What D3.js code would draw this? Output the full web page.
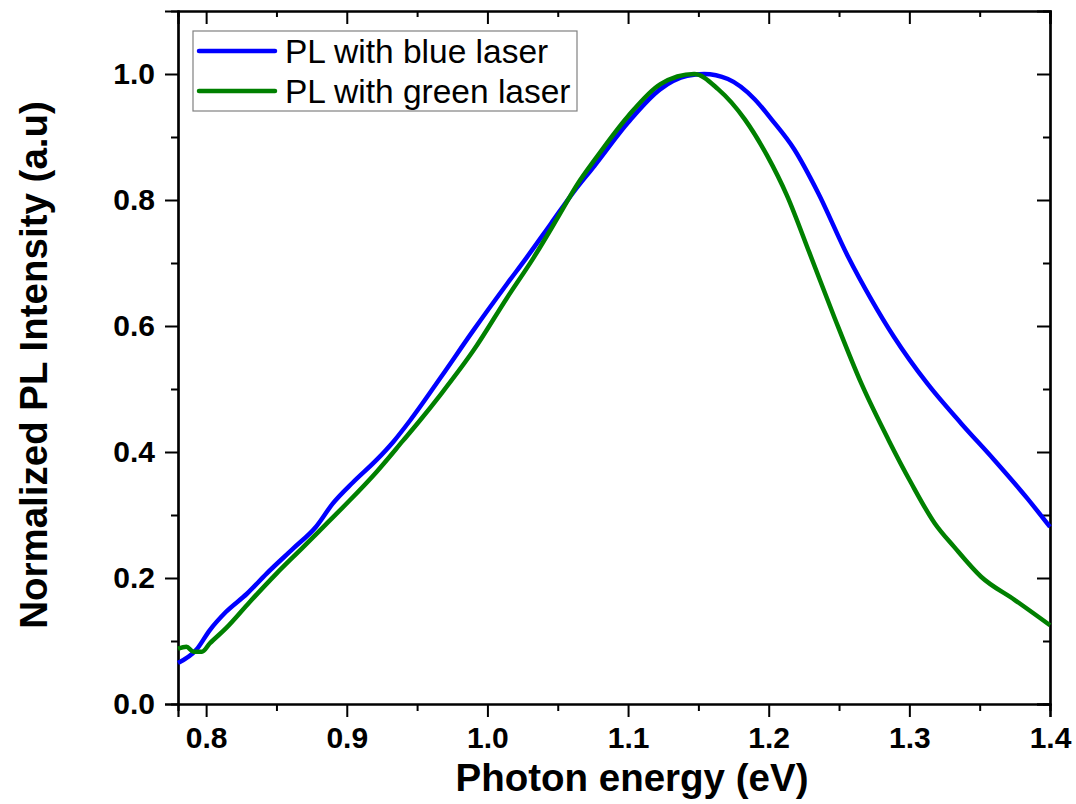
<!DOCTYPE html>
<html lang="en">

<head>
  <meta charset="UTF-8">
  <title>Normalized PL Intensity</title>
  <script src="https://d3js.org/d3.v7.min.js"></script>
  <style>
    body {
      margin: 0;
      background: #fff;
      font-family: Arial, "Liberation Sans", sans-serif;
    }

    .tick-label {
      font-weight: bold;
      font-size: 30px;
      fill: #000;
    }

    .axis-title {
      font-weight: bold;
      font-size: 38.5px;
      fill: #000;
    }
  </style>
</head>

<body>
  <div id="chart"></div>

  <script>
    // data
    const blueEnergy = [0.780, 0.793, 0.8025, 0.814, 0.829, 0.843, 0.862, 0.878, 0.890, 0.9045, 0.921, 0.933, 0.945,
      0.967, 0.990, 1.014, 1.028, 1.045, 1.062, 1.076, 1.100, 1.123, 1.142, 1.154, 1.171, 1.190, 1.202, 1.218,
      1.235, 1.256, 1.273, 1.289, 1.313, 1.337, 1.3605, 1.384, 1.400];
    const blueIntensity = [0.065, 0.086, 0.117, 0.146, 0.175, 0.207, 0.247, 0.281, 0.318, 0.352, 0.387, 0.416, 0.450,
      0.519, 0.593, 0.667, 0.709, 0.762, 0.815, 0.854, 0.923, 0.976, 0.997, 1.000, 0.992, 0.960, 0.928, 0.881,
      0.812, 0.712, 0.642, 0.583, 0.508, 0.445, 0.387, 0.326, 0.281];

    const greenEnergy = [0.780, 0.786, 0.791, 0.797, 0.8025, 0.814, 0.831, 0.850, 0.869, 0.8855, 0.902, 0.921, 0.940,
      0.952, 0.967, 0.990, 1.014, 1.033, 1.050, 1.064, 1.077, 1.100, 1.123, 1.147, 1.164, 1.183, 1.199, 1.213,
      1.229, 1.247, 1.266, 1.285, 1.301, 1.318, 1.332, 1.351, 1.375, 1.400];
    const greenIntensity = [0.088, 0.091, 0.083, 0.083, 0.096, 0.120, 0.162, 0.207, 0.249, 0.286, 0.323, 0.368, 0.418,
      0.450, 0.492, 0.561, 0.645, 0.709, 0.772, 0.825, 0.866, 0.933, 0.984, 1.000, 0.976, 0.928, 0.870, 0.807,
      0.716, 0.612, 0.508, 0.420, 0.352, 0.287, 0.249, 0.202, 0.165, 0.125];

    const seriesNames = ["PL with blue laser", "PL with green laser"];
    const seriesColors = ["#0000ff", "#008000"];

    const xMajorTicks = [0.8, 0.9, 1.0, 1.1, 1.2, 1.3, 1.4];
    const xMinorTicks = [0.85, 0.95, 1.05, 1.15, 1.25, 1.35];
    const yMajorTicks = [0.0, 0.2, 0.4, 0.6, 0.8, 1.0];
    const yMinorTicks = [0.1, 0.3, 0.5, 0.7, 0.9];

    const xTitle = "Photon energy (eV)";
    const yTitle = "Normalized PL Intensity (a.u)";

    const margin = { top: 11, right: 26, bottom: 100, left: 178 };
    const width = 1076 - margin.left - margin.right;
    const height = 804 - margin.top - margin.bottom;

    const svg = d3.select("#chart").append("svg")
      .attr("width", 1076)
      .attr("height", 804)
      .append("g")
      .attr("transform", `translate(${margin.left},${margin.top})`);

    const x = d3.scaleLinear().domain([0.78, 1.4]).range([0, width]);
    const y = d3.scaleLinear().domain([0, 1.1]).range([height, 0]);

    const fmt = d3.format(".1f");

    // bottom axis: ticks outward
    const bottomAxis = svg.append("g").attr("transform", `translate(0,${height})`);
    bottomAxis.call(d3.axisBottom(x).tickValues(xMajorTicks).tickSize(13).tickPadding(10).tickFormat(fmt));
    bottomAxis.append("g").call(d3.axisBottom(x).tickValues(xMinorTicks).tickSize(7).tickFormat(""));

    // left axis: ticks outward
    const leftAxis = svg.append("g");
    leftAxis.call(d3.axisLeft(y).tickValues(yMajorTicks).tickSize(13).tickPadding(10).tickFormat(fmt));
    leftAxis.append("g").call(d3.axisLeft(y).tickValues(yMinorTicks).tickSize(7).tickFormat(""));

    // top axis: ticks inward
    const topAxis = svg.append("g");
    topAxis.call(d3.axisTop(x).tickValues(xMajorTicks).tickSize(-13).tickFormat(""));
    topAxis.append("g").call(d3.axisTop(x).tickValues(xMinorTicks).tickSize(-6).tickFormat(""));

    // right axis: ticks inward
    const rightAxis = svg.append("g").attr("transform", `translate(${width},0)`);
    rightAxis.call(d3.axisRight(y).tickValues(yMajorTicks).tickSize(-13).tickFormat(""));
    rightAxis.append("g").call(d3.axisRight(y).tickValues(yMinorTicks).tickSize(-7).tickFormat(""));

    svg.selectAll(".domain").attr("stroke", "#000").attr("stroke-width", 2.2);
    svg.selectAll(".tick line").attr("stroke", "#000").attr("stroke-width", 2);
    svg.selectAll(".tick text").attr("class", "tick-label");
    svg.selectAll("g").filter(function () { return this.hasAttribute("font-size"); })
      .attr("font-size", null).attr("font-family", null);

    // curves
    const line = d3.line()
      .x(d => x(d[0]))
      .y(d => y(d[1]))
      .curve(d3.curveMonotoneX);

    const blueData = blueEnergy.map((e, i) => [e, blueIntensity[i]]);
    const greenData = greenEnergy.map((e, i) => [e, greenIntensity[i]]);

    const plot = svg.append("g");
    plot.append("path")
      .datum(blueData)
      .attr("fill", "none")
      .attr("stroke", seriesColors[0])
      .attr("stroke-width", 4.5)
      .attr("d", line);

    plot.append("path")
      .datum(greenData)
      .attr("fill", "none")
      .attr("stroke", seriesColors[1])
      .attr("stroke-width", 4.5)
      .attr("d", line);

    // axis titles
    svg.append("text")
      .attr("class", "axis-title")
      .attr("x", width / 2 + 18)
      .attr("y", height + 87)
      .attr("text-anchor", "middle")
      .text(xTitle);

    svg.append("text")
      .attr("class", "axis-title")
      .attr("transform", "rotate(-90)")
      .attr("x", -(365 - margin.top))
      .attr("y", -131)
      .attr("text-anchor", "middle")
      .text(yTitle);

    // legend
    const legend = svg.append("g").attr("transform", "translate(15,20)");
    legend.append("rect")
      .attr("width", 384)
      .attr("height", 80)
      .attr("fill", "#fff")
      .attr("stroke", "#808080")
      .attr("stroke-width", 1.2);

    seriesNames.forEach((name, i) => {
      const row = legend.append("g").attr("transform", `translate(0,${20 + i * 40})`);
      row.append("line")
        .attr("x1", 6).attr("x2", 82)
        .attr("stroke", seriesColors[i])
        .attr("stroke-width", 4.5)
        .attr("stroke-linecap", "round");
      row.append("text")
        .attr("x", 92)
        .attr("y", 12)
        .attr("font-size", "33.5px")
        .attr("fill", "#000")
        .text(name);
    });
  </script>
</body>

</html>
